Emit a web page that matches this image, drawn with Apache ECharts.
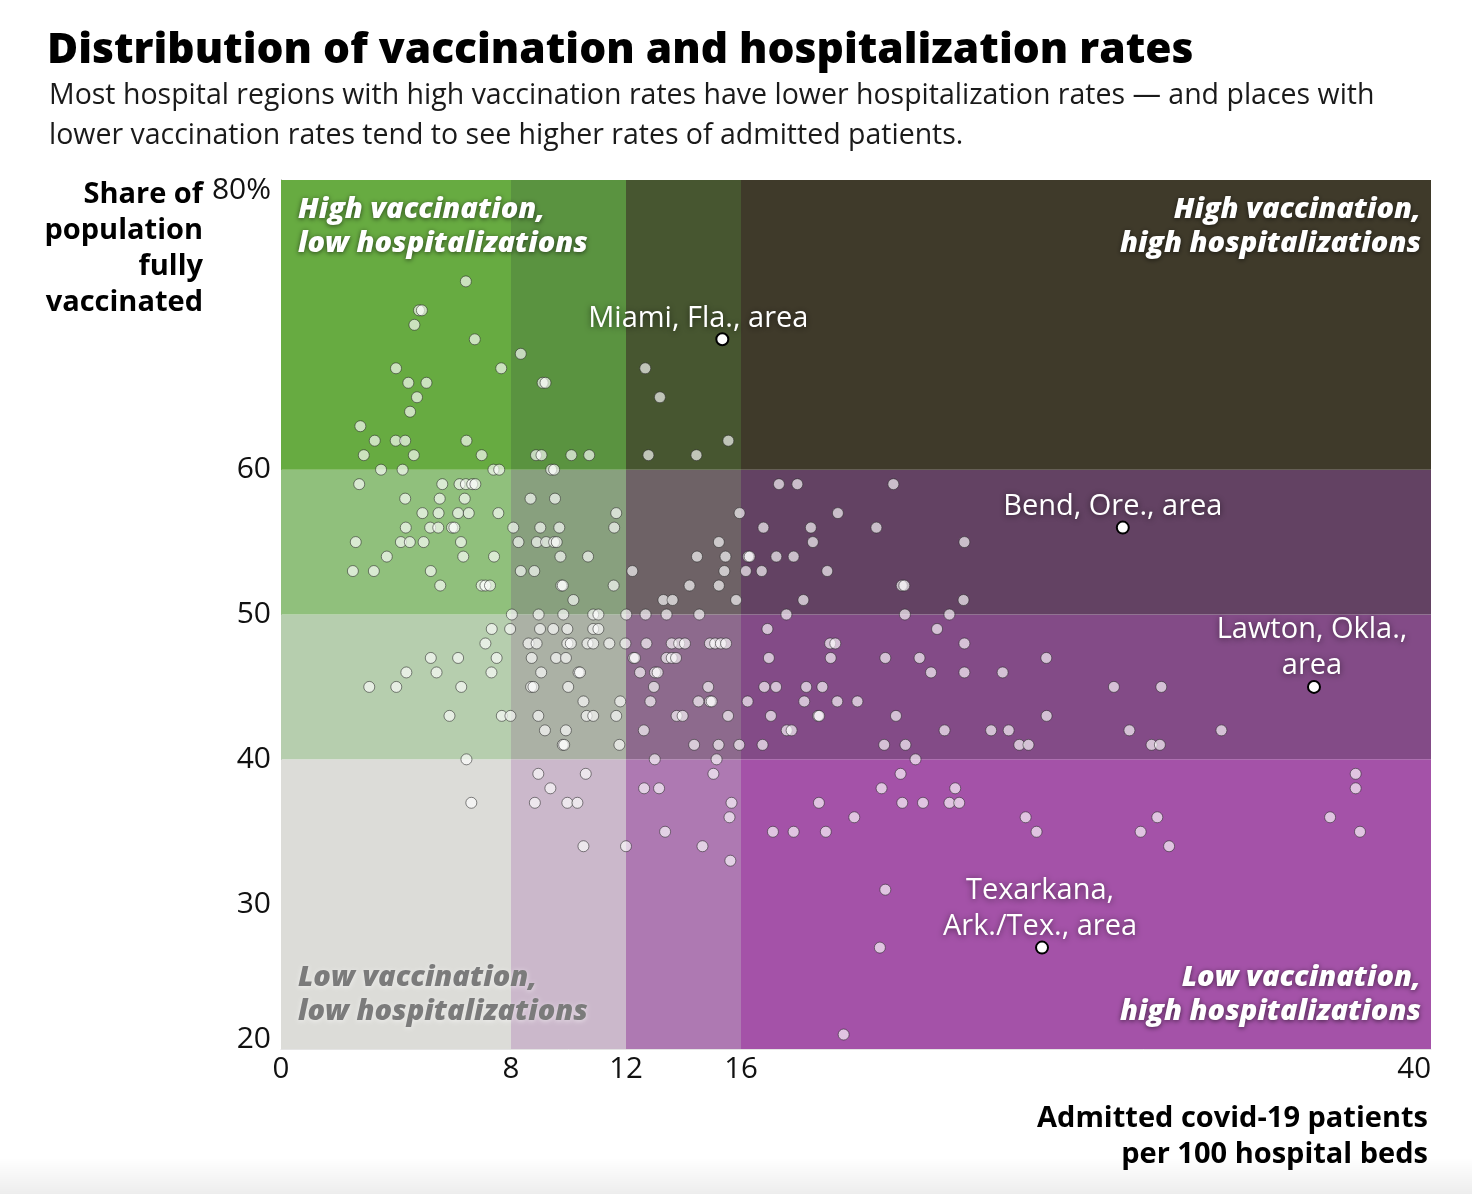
<!DOCTYPE html>
<html><head><meta charset="utf-8">
<script src="https://cdn.jsdelivr.net/npm/echarts@6/dist/echarts.min.js"></script>
<style>html,body{margin:0;padding:0;background:#fff}#chart{width:1472px;height:1194px}</style>
</head><body><div id="chart"></div>
<script>
// ---------- DATA ----------
const xBreaks = [0, 8, 12, 16, 40];          // admitted patients per 100 beds
const yBreaks = [20, 40, 50, 60, 80];        // share fully vaccinated (%)
const xTickValues = [0, 8, 12, 16, 40];
const yTickValues = [20, 30, 40, 50, 60, 80];
// band colours: rows follow yBreaks from bottom (20-40) to top (60-80), cols follow xBreaks
const bandColors = [
  ['#dcdcd8', '#cbb8cb', '#ae79b2', '#a452a8'],
  ['#b6ceae', '#abb1a5', '#8d6a8d', '#834b87'],
  ['#90c07c', '#88a07e', '#6e6266', '#634263'],
  ['#67ab41', '#5a9340', '#475630', '#3f3a2a']
];
const quadrantLabels = [
  'High vaccination,\nlow hospitalizations',
  'High vaccination,\nhigh hospitalizations',
  'Low vaccination,\nlow hospitalizations',
  'Low vaccination,\nhigh hospitalizations'
];
// hospital regions: [admitted per 100 beds, % fully vaccinated]
const regions = [
  [6.43,73],
  [4.8,71],[4.9,71],
  [4.64,70],
  [6.74,69],
  [8.34,68],
  [4.0,67],[7.66,67],[12.67,67],
  [4.43,66],[5.06,66],[9.1,66],[9.2,66],
  [4.73,65],[13.18,65],
  [4.49,64],
  [2.76,63],
  [3.26,62],[3.99,62],[4.32,62],[6.45,62],[15.56,62],
  [2.88,61],[4.62,61],[6.98,61],[8.87,61],[9.06,61],[10.1,61],[10.72,61],[12.78,61],[14.45,61],
  [3.48,60],[4.23,60],[7.39,60],[7.59,60],[9.4,60],[9.5,60],
  [2.72,59],[5.61,59],[6.21,59],[6.43,59],[6.65,59],[6.76,59],[17.32,59],[17.96,59],[21.3,59],
  [4.32,58],[5.52,58],[6.39,58],[8.68,58],[9.53,58],
  [4.92,57],[5.48,57],[6.16,57],[6.53,57],[7.56,57],[11.66,57],[15.95,57],[19.37,57],
  [4.34,56],[5.19,56],[5.47,56],[5.95,56],[6.03,56],[8.08,56],[9.02,56],[9.68,56],[11.59,56],[16.78,56],[18.43,56],[20.71,56],
  [2.6,55],[4.17,55],[4.48,55],[4.96,55],[6.26,55],[8.26,55],[8.9,55],[9.22,55],[9.5,55],[9.59,55],[15.23,55],[18.5,55],[23.77,55],
  [3.68,54],[6.34,54],[7.41,54],[9.72,54],[10.68,54],[14.47,54],[15.46,54],[16.25,54],[16.3,54],[17.23,54],[17.83,54],
  [2.5,53],[3.23,53],[5.21,53],[8.34,53],[8.81,53],[12.22,53],[15.42,53],[16.17,53],[16.72,53],[19.0,53],
  [5.54,52],[6.98,52],[7.11,52],[7.27,52],[9.75,52],[9.8,52],[11.57,52],[14.21,52],[15.23,52],[21.59,52],[21.68,52],
  [10.17,51],[13.3,51],[13.62,51],[15.83,51],[18.17,51],[23.74,51],
  [8.03,50],[8.96,50],[9.82,50],[10.86,50],[11.04,50],[12.01,50],[12.68,50],[13.41,50],[14.55,50],[17.58,50],[21.7,50],[23.25,50],
  [7.33,49],[7.97,49],[9.01,49],[9.47,49],[9.96,49],[10.86,49],[11.04,49],[16.92,49],[22.82,49],
  [7.11,48],[8.61,48],[8.89,48],[9.96,48],[10.08,48],[10.66,48],[10.86,48],[11.42,48],[11.98,48],[12.71,48],[13.59,48],[13.85,48],[14.05,48],[14.92,48],[15.1,48],[15.3,48],[15.48,48],[19.1,48],[19.28,48],[23.77,48],
  [5.21,47],[6.16,47],[7.5,47],[8.72,47],[9.57,47],[9.91,47],[12.26,47],[12.31,47],[13.41,47],[13.59,47],[13.74,47],[16.97,47],[19.12,47],[21.02,47],[22.21,47],[26.62,47],
  [4.36,46],[5.41,46],[7.32,46],[9.05,46],[10.35,46],[10.4,46],[12.49,46],[13.01,46],[13.1,46],[22.61,46],[23.77,46],[25.1,46],
  [3.07,45],[4.01,45],[6.27,45],[8.7,45],[8.78,45],[9.99,45],[12.97,45],[14.86,45],[16.81,45],[17.22,45],[18.27,45],[18.83,45],[28.97,45],[30.62,45],
  [10.52,44],[11.8,44],[12.85,44],[14.52,44],[14.92,44],[14.98,44],[16.23,44],[18.2,44],[19.35,44],[20.05,44],
  [5.86,43],[7.68,43],[7.98,43],[8.95,43],[10.63,43],[10.86,43],[11.66,43],[13.76,43],[13.97,43],[15.55,43],[17.04,43],[18.68,43],[18.72,43],[21.39,43],[26.63,43],
  [9.18,42],[9.91,42],[12.62,42],[17.59,42],[17.76,42],[23.08,42],[24.7,42],[25.31,42],[29.51,42],[32.71,42],
  [9.8,41],[9.85,41],[11.77,41],[14.37,41],[15.22,41],[15.94,41],[16.75,41],[20.98,41],[21.72,41],[25.68,41],[26.0,41],[30.28,41],[30.57,41],
  [6.45,40],[13.0,40],[15.15,40],[22.07,40],
  [8.95,39],[10.6,39],[15.04,39],[21.55,39],[37.38,39],
  [9.37,38],[12.63,38],[13.15,38],[20.89,38],[23.45,38],[37.38,38],
  [6.62,37],[8.83,37],[9.96,37],[10.31,37],[15.67,37],[18.71,37],[21.61,37],[22.33,37],[23.25,37],[23.59,37],
  [15.6,36],[19.94,36],[25.9,36],[30.48,36],[36.49,36],
  [13.36,35],[17.11,35],[17.83,35],[18.95,35],[26.28,35],[29.9,35],[37.53,35],
  [10.52,34],[12.0,34],[14.66,34],[30.89,34],
  [15.63,33],
  [21.02,31],
  [20.83,27],
  [19.57,21]
];
const cityNames = ['Miami, Fla., area', 'Bend, Ore., area', 'Lawton, Okla.,\narea', 'Texarkana,\nArk./Tex., area'];
const cityHosp  = [15.35, 29.28, 35.93, 26.47];
const cityVax   = [69, 56, 45, 27];
const titleText = 'Distribution of vaccination and hospitalization rates';
const subtitleText = 'Most hospital regions with high vaccination rates have lower hospitalization rates \u2014 and places with\nlower vaccination rates tend to see higher rates of admitted patients.';
const yAxisTitle = 'Share of\npopulation\nfully\nvaccinated';
const xAxisTitle = 'Admitted covid-19 patients\nper 100 hospital beds';

// ---------- LAYOUT HELPERS ----------
const FAM = '"Open Sans", Roboto, sans-serif';
const mctx = document.createElement('canvas').getContext('2d');
function fit(text, prefix, target) {
  mctx.font = prefix + ' 100px ' + FAM;
  const w = mctx.measureText(text).width;
  return Math.round(target / w * 100 * 2) / 2;
}
const S_TITLE = fit(titleText, '800', 1141);
const S_SUB = fit(subtitleText.split('\n')[0], 'normal', 1330);
const S_YTICK = fit('80%', 'normal', 59);
const S_XTICK = fit('40', 'normal', 34);
const S_AXNAME = fit('Admitted covid-19 patients', 'bold', 391);
const S_QUAD = fit('low hospitalizations', 'italic 800', 292);
const S_CITY = fit('Miami, Fla., area', 'normal', 222);

const chart = echarts.init(document.getElementById('chart'), null, {renderer: 'canvas'});

const bands = [];
for (let r = 0; r < yBreaks.length - 1; r++) {
  for (let c = 0; c < xBreaks.length - 1; c++) {
    bands.push([
      {xAxis: xBreaks[c], yAxis: yBreaks[r], itemStyle: {color: bandColors[r][c], opacity: 1}},
      {xAxis: xBreaks[c + 1], yAxis: yBreaks[r + 1]}
    ]);
  }
}

const labelOffsets = [[-24, 0], [-10, 0], [-2, 0], [-2, 0]];
const cityData = cityNames.map((n, i) => ({
  name: n,
  value: [cityHosp[i], cityVax[i]],
  label: {offset: labelOffsets[i]}
}));

function quadText(txt, x, y, align, fill, shadowColor) {
  return {
    type: 'text', x: x, y: y, z: 50, silent: true,
    style: {
      text: txt, fill: fill, align: align, verticalAlign: 'top',
      font: 'italic 800 ' + S_QUAD + 'px ' + FAM, lineHeight: 34,
      textShadowColor: shadowColor, textShadowBlur: 5, textShadowOffsetY: 1
    }
  };
}

chart.setOption({
  backgroundColor: '#ffffff',
  animation: false,
  title: [
    {text: titleText, left: 42, top: 48 - S_TITLE / 2 - 2,
     textStyle: {fontFamily: FAM, fontWeight: 800, fontSize: S_TITLE, lineHeight: S_TITLE, color: '#000'}},
    {text: subtitleText, left: 44, top: 91 - 20,
     textStyle: {fontFamily: FAM, fontWeight: 'normal', fontSize: S_SUB, lineHeight: 40, color: '#1a1a1a'}}
  ],
  grid: {left: 281, right: 41, top: 180, bottom: 145, containLabel: false},
  xAxis: {
    type: 'value', min: 0, max: 40, interval: 4,
    splitLine: {show: false},
    axisTick: {show: false},
    axisLine: {show: true, lineStyle: {color: '#e4e4e4', width: 1}},
    axisLabel: {
      margin: 6, fontFamily: FAM, fontSize: S_XTICK, color: '#111',
      alignMaxLabel: 'right',
      formatter: v => xTickValues.indexOf(v) >= 0 ? String(v) : ''
    }
  },
  yAxis: {
    type: 'value', min: 20, max: 80, interval: 10,
    splitLine: {show: false},
    axisTick: {show: false},
    axisLine: {show: true, lineStyle: {color: '#8c8c8c', width: 1}},
    axisLabel: {
      margin: 10, fontFamily: FAM, fontSize: S_YTICK, color: '#111',
      lineHeight: 20,
      verticalAlignMaxLabel: 'top', verticalAlignMinLabel: 'bottom',
      formatter: v => yTickValues.indexOf(v) < 0 ? '' : (v === 80 ? '80%' : String(v))
    }
  },
  series: [
    {
      type: 'scatter', data: [], silent: true, z: 1,
      markArea: {silent: true, data: bands, label: {show: false}}
    },
    {
      type: 'scatter', name: 'regions', data: regions, z: 5, silent: true,
      symbol: 'circle', symbolSize: 11,
      itemStyle: {opacity: 1, color: 'rgba(255,255,255,0.66)', borderColor: 'rgba(40,40,40,0.7)', borderWidth: 0.8}
    },
    {
      type: 'scatter', name: 'cities', data: cityData, z: 10, silent: true,
      symbol: 'circle', symbolSize: 12,
      itemStyle: {opacity: 1, color: '#ffffff', borderColor: '#000000', borderWidth: 2},
      label: {
        show: true, position: 'top', distance: -4,
        formatter: p => p.name,
        fontFamily: FAM, fontSize: S_CITY, lineHeight: 36, color: '#fff', align: 'center',
        textShadowColor: 'rgba(0,0,0,0.55)', textShadowBlur: 6, textShadowOffsetY: 1
      }
    }
  ],
  graphic: [
    {
      type: 'rect', z: -1, silent: true,
      shape: {x: 0, y: 1158, width: 1472, height: 36},
      style: {fill: new echarts.graphic.LinearGradient(0, 0, 0, 1, [
        {offset: 0, color: 'rgba(0,0,0,0)'}, {offset: 1, color: 'rgba(0,0,0,0.07)'}])}
    },
    {
      type: 'text', x: 203, y: 177, silent: true,
      style: {text: yAxisTitle, align: 'right', verticalAlign: 'top',
              font: 'bold ' + S_AXNAME + 'px ' + FAM, lineHeight: 36, fill: '#000'}
    },
    {
      type: 'text', x: 1428, y: 1101, silent: true,
      style: {text: xAxisTitle, align: 'right', verticalAlign: 'top',
              font: 'bold ' + S_AXNAME + 'px ' + FAM, lineHeight: 36, fill: '#000'}
    },
    quadText(quadrantLabels[0], 298, 193, 'left', '#ffffff', 'rgba(0,0,0,0.6)'),
    quadText(quadrantLabels[1], 1421, 193, 'right', '#ffffff', 'rgba(0,0,0,0.6)'),
    quadText(quadrantLabels[2], 298, 961, 'left', '#7b7b7b', 'rgba(255,255,255,0.6)'),
    quadText(quadrantLabels[3], 1421, 961, 'right', '#ffffff', 'rgba(0,0,0,0.6)')
  ]
});
</script>
</body></html>
